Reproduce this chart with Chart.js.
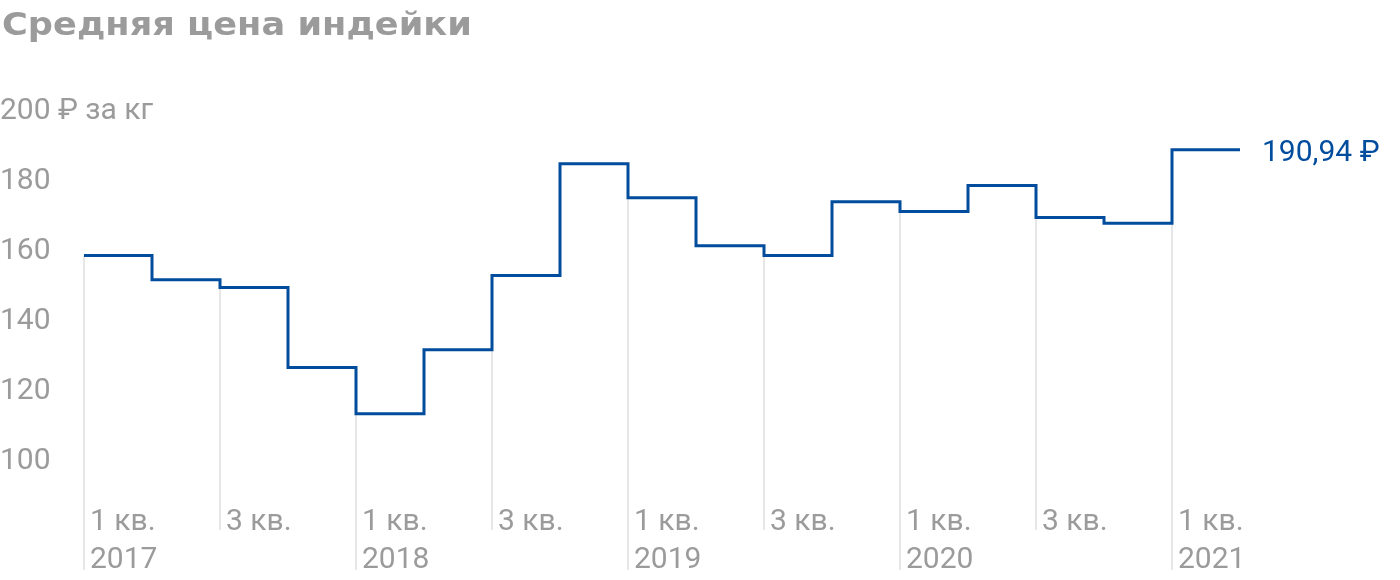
<!DOCTYPE html>
<html>
<head>
<meta charset="utf-8">
<script src="https://cdn.jsdelivr.net/npm/chart.js@4"></script>
<style>
  html, body { margin: 0; padding: 0; background: #fff; }
  #wrap { position: relative; width: 1400px; height: 580px; }
  #title {
    position: absolute; left: 2px; top: 8px; margin: 0;
    font: bold 32px/1 "DejaVu Sans", sans-serif;
    transform: scaleX(1.1); transform-origin: 0 0;
    color: #9b9b9b; white-space: nowrap;
  }
  canvas { position: absolute; left: 0; top: 0; }
</style>
</head>
<body>
<div id="wrap">
  <canvas id="priceChart" width="1400" height="580"></canvas>
  <h1 id="title">Средняя цена индейки</h1>
</div>
<script>
// Quarters 2017 Q1 .. 2021 Q1, average turkey price, rub per kg
const quarters = ["1 кв.", "2 кв.", "3 кв.", "4 кв.", "1 кв.", "2 кв.", "3 кв.", "4 кв.", "1 кв.",
  "2 кв.", "3 кв.", "4 кв.", "1 кв.", "2 кв.", "3 кв.", "4 кв.", "1 кв."];
const years = ["2017", "", "", "", "2018", "", "", "", "2019", "", "", "", "2020", "", "", "", "2021"];
const prices = [160.7, 153.8, 151.6, 128.7, 115.5, 133.8, 155.0, 186.9, 177.2,
  163.5, 160.7, 176.1, 173.3, 180.7, 171.6, 169.9, 190.94];
const yTicks = [100, 120, 140, 160, 180, 200];
const lastLabel = "190,94 ₽";

const GREY = "#9b9b9b";
const BLUE = "#004c9d";
const FONT = "Roboto";

// one point per quarter start, plus the end of the last quarter
const points = prices.map((v, i) => ({ x: i, y: v }));
points.push({ x: prices.length, y: prices[prices.length - 1] });

// light drop lines at 1st and 3rd quarters, and the last value label
const dropLines = {
  id: "dropLines",
  beforeDatasetsDraw(chart) {
    const { ctx, scales } = chart;
    ctx.save();
    ctx.strokeStyle = "#e6e6e6";
    ctx.lineWidth = 2;
    prices.forEach((v, i) => {
      if (i % 2 !== 0) return;
      const x = Math.round(scales.x.getPixelForValue(i));
      const bottom = i % 4 === 0 ? 570 : 530;
      ctx.beginPath();
      ctx.moveTo(x, scales.y.getPixelForValue(v));
      ctx.lineTo(x, bottom);
      ctx.stroke();
    });
    ctx.restore();
  },
  afterDatasetsDraw(chart) {
    const { ctx, scales } = chart;
    const i = prices.length - 1;
    ctx.save();
    ctx.fillStyle = BLUE;
    ctx.font = "30px " + FONT;
    ctx.textBaseline = "middle";
    ctx.fillText(lastLabel, scales.x.getPixelForValue(i + 1) + 22, scales.y.getPixelForValue(prices[i]) + 4);
    ctx.restore();
  }
};

const ctx = document.getElementById("priceChart").getContext("2d");
new Chart(ctx, {
  type: "line",
  data: {
    datasets: [{
      data: points,
      borderColor: BLUE,
      borderWidth: 3,
      stepped: "before",
      pointRadius: 0,
      fill: false
    }]
  },
  options: {
    responsive: false,
    animation: false,
    layout: { padding: { left: 0, right: 160, top: 118, bottom: 0 } },
    plugins: {
      legend: { display: false },
      tooltip: { enabled: false },
      title: { display: false }
    },
    scales: {
      x: {
        type: "linear",
        min: 0,
        max: prices.length,
        afterBuildTicks(scale) {
          scale.ticks = quarters.map((q, i) => ({ value: i })).filter((t) => t.value % 2 === 0);
        },
        afterFit(scale) {
          scale.height = 77;
        },
        ticks: {
          align: "start",
          labelOffset: 6,
          padding: 0,
          maxRotation: 0,
          autoSkip: false,
          color: GREY,
          font: { family: FONT, size: 30, lineHeight: 1.2667 },
          callback: (v) => (years[v] ? [quarters[v], years[v]] : quarters[v])
        },
        grid: { display: false, drawTicks: false },
        border: { display: false }
      },
      y: {
        min: 90,
        max: 200,
        afterBuildTicks(scale) {
          scale.ticks = yTicks.map((v) => ({ value: v }));
        },
        afterFit(scale) {
          scale.width = 84;
        },
        ticks: {
          mirror: true,
          crossAlign: "near",
          padding: -84,
          labelOffset: -6.5,
          color: GREY,
          font: { family: FONT, size: 30 },
          callback: (v) => (v === 200 ? "200 ₽ за кг" : v)
        },
        grid: { display: false, drawTicks: false },
        border: { display: false }
      }
    }
  },
  plugins: [dropLines]
});
</script>
</body>
</html>
